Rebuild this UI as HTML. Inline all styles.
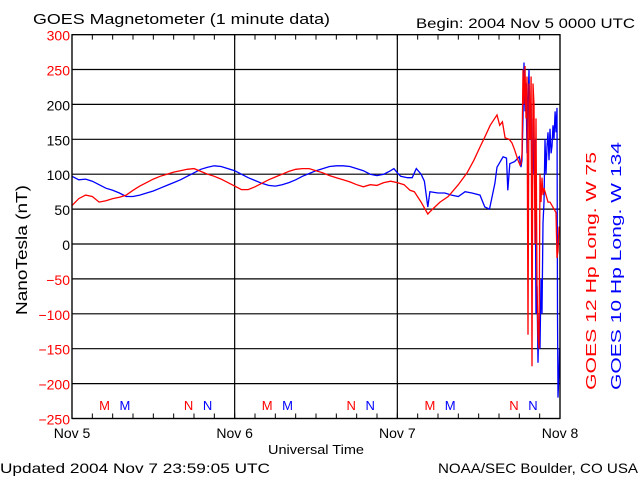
<!DOCTYPE html>
<html><head><meta charset="utf-8"><style>
html,body{margin:0;padding:0;background:#fff;}
svg{display:block;font-family:"Liberation Sans",sans-serif;}
</style></head><body>
<svg id="chart" width="640" height="480" viewBox="0 0 640 480" xmlns="http://www.w3.org/2000/svg">
<text x="33" y="24" font-size="15" textLength="297" lengthAdjust="spacingAndGlyphs">GOES Magnetometer (1 minute data)</text>
<text x="416" y="28" font-size="14" textLength="219" lengthAdjust="spacingAndGlyphs">Begin:  2004 Nov 5 0000 UTC</text>
<text transform="translate(27,250) rotate(-90)" text-anchor="middle" font-size="16" textLength="130" lengthAdjust="spacingAndGlyphs">NanoTesla (nT)</text>
<text x="268" y="454" font-size="13" textLength="96" lengthAdjust="spacingAndGlyphs">Universal Time</text>
<text x="0" y="473" font-size="14" textLength="270" lengthAdjust="spacingAndGlyphs">Updated 2004 Nov  7 23:59:05 UTC</text>
<text x="438" y="473" font-size="14" textLength="200" lengthAdjust="spacingAndGlyphs">NOAA/SEC Boulder, CO USA</text>
<text transform="translate(596,390) rotate(-90)" font-size="15" fill="#ff0000" textLength="238" lengthAdjust="spacingAndGlyphs">GOES 12 Hp  Long. W 75</text>
<text transform="translate(621,390) rotate(-90)" font-size="15" fill="#0000ff" textLength="248" lengthAdjust="spacingAndGlyphs">GOES 10 Hp  Long. W 134</text>
<g id="grid"></g>
<g id="series"></g>
<g id="frame"></g>
</svg>
<script>
const yTicks=[300,250,200,150,100,50,0,-50,-100,-150,-200,-250];
const yTickRed=[300,250,-50,-100,-150,-200,-250];
const dayLabels=["Nov 5","Nov 6","Nov 7","Nov 8"];
const mnLabels=["M","M","N","N"];
const mnHours=[4.8,7.8,17.2,20.0];
const mnColors=["#ff0000","#0000ff","#ff0000","#0000ff"];
const redHours=[0,1,2,3,4,5,6,7,8,9,10,11,12,13,14,15,16,17,18,19,20,21,22,23,24,25,26,27,28,29,30,31,32,33,34,35,36,37,38,39,40,41,42,43,44,45,46,47,48,49,49.87,50.5,51.5,52.5,53.2,54.3,55.5,57,58.3,59.3,60.2,61,61.7,62.7,63.1,63.5,63.9,64.5,64.9,65.3,65.8,66.1,66.25,66.4,66.54,66.69,66.84,66.99,67.13,67.28,67.43,67.58,67.73,67.87,68.02,68.17,68.31,68.46,68.61,68.76,68.9,69.05,69.2,69.35,69.49,69.64,69.94,70.23,70.53,70.82,71.12,71.41,71.56,71.71,71.86];
const redValues=[55,65,70,68,60,62,65,67,70,77,83,88,93,97,100,103,105,107,108,104,100,97,93,88,83,78,78,82,87,92,96,100,104,107,108,108,105,102,98,95,92,89,85,82,85,84,88,90,88,85,77,75,60,43,50,60,68,85,102,120,139,155,170,185,170,175,152,150,145,135,120,113,115,130,250,200,255,180,240,-130,230,150,240,-175,230,200,0,180,-60,-130,-150,100,60,95,70,80,70,60,60,55,50,45,-20,-10,25];
const blueHours=[0,1,2,3,4,5,6,7,8,9,10,11,12,13,14,15,16,17,18,19,20,21,22,23,24,25,26,27,28,29,30,31,32,33,34,35,36,37,38,39,40,41,42,43,44,45,46,47,47.5,48,48.5,49.5,50.2,50.8,51.5,52,52.5,52.8,54,55,56,57,58,59,60.2,60.9,61.6,62.4,62.7,63.6,64.1,64.3,64.6,65.3,66,66.25,66.4,66.54,66.69,66.84,66.99,67.13,67.28,67.43,67.58,67.73,67.87,68.02,68.17,68.31,68.46,68.61,68.76,68.9,69.05,69.2,69.35,69.49,69.64,69.79,69.94,70.08,70.23,70.38,70.53,70.68,70.82,70.97,71.12,71.27,71.41,71.56,71.63,71.71,71.86,71.93];
const blueValues=[97,92,93,90,85,80,77,73,68,68,70,73,76,80,84,88,92,97,102,107,110,112,111,108,105,100,95,91,87,84,83,85,88,92,97,101,105,108,111,112,112,111,108,105,100,98,100,105,108,102,97,95,95,108,100,90,53,75,73,73,70,68,75,73,70,53,50,87,110,125,123,77,115,118,125,110,120,180,260,190,230,130,200,250,150,200,30,180,100,150,-100,-60,-170,-100,-150,-50,-100,30,60,150,100,140,160,120,165,130,140,170,150,190,160,195,-100,-220,-180,-150];
const X0=72,X1=560,Y0=34.6,Y1=418.5;
const xs=h=>X0+(X1-X0)*h/72;
const ys=v=>Y0+(300-v)*(Y1-Y0)/550;
const NS="http://www.w3.org/2000/svg";
function mk(tag,attrs,parent){const e=document.createElementNS(NS,tag);for(const k in attrs)e.setAttribute(k,attrs[k]);parent.appendChild(e);return e;}
const grid=document.getElementById('grid'),frame=document.getElementById('frame'),series=document.getElementById('series');
yTicks.forEach(v=>{
  const l=mk('line',{x1:X0,x2:X1,y1:ys(v),y2:ys(v),stroke:'#000','stroke-width':1.2},grid);
  
  
  const t=mk('text',{x:X0-2,y:ys(v)+6,'text-anchor':'end','font-size':14,fill:yTickRed.includes(v)?'#ff0000':'#000'},frame);
  t.textContent=v<0?'\u2212'+(-v):String(v);
  
  
});
dayLabels.forEach((d,i)=>{
  const x=xs(i*24);
  const l=mk('line',{x1:x,x2:x,y1:Y0,y2:Y1,stroke:'#000','stroke-width':1.2},grid);
  
  
  const t=mk('text',{x:x,y:438,'text-anchor':'middle','font-size':14},frame);
  t.textContent=d;
  
  
});
for(let h=3;h<72;h+=3){
  const x=xs(h);
  const a=mk('line',{x1:x,x2:x,y1:Y0,y2:Y0+5,stroke:'#000','stroke-width':1},frame);
  
  
  const b=mk('line',{x1:x,x2:x,y1:Y1,y2:Y1-5,stroke:'#000','stroke-width':1},frame);
  
  
}
for(let d=0;d<3;d++){
  mnLabels.forEach((m,i)=>{
    const t=mk('text',{x:xs(d*24+mnHours[i]),y:410,'text-anchor':'middle','font-size':13,fill:mnColors[i]},frame);
    t.textContent=m;
    
    
  });
}
function path(hs,vs,color,name){
  const d=hs.map((h,i)=>(i?'L':'M')+xs(h).toFixed(1)+','+ys(vs[i]).toFixed(1)).join('');
  const p=mk('path',{d:d,fill:'none',stroke:color,'stroke-width':1.3},series);
  
  
}
path(blueHours,blueValues,'#0000ff','goes10-series');
path(redHours,redValues,'#ff0000','goes12-series');
const r=mk('rect',{x:X0,y:Y0,width:X1-X0,height:Y1-Y0,fill:'none',stroke:'#000','stroke-width':1.2},frame);


</script>
</body></html>
